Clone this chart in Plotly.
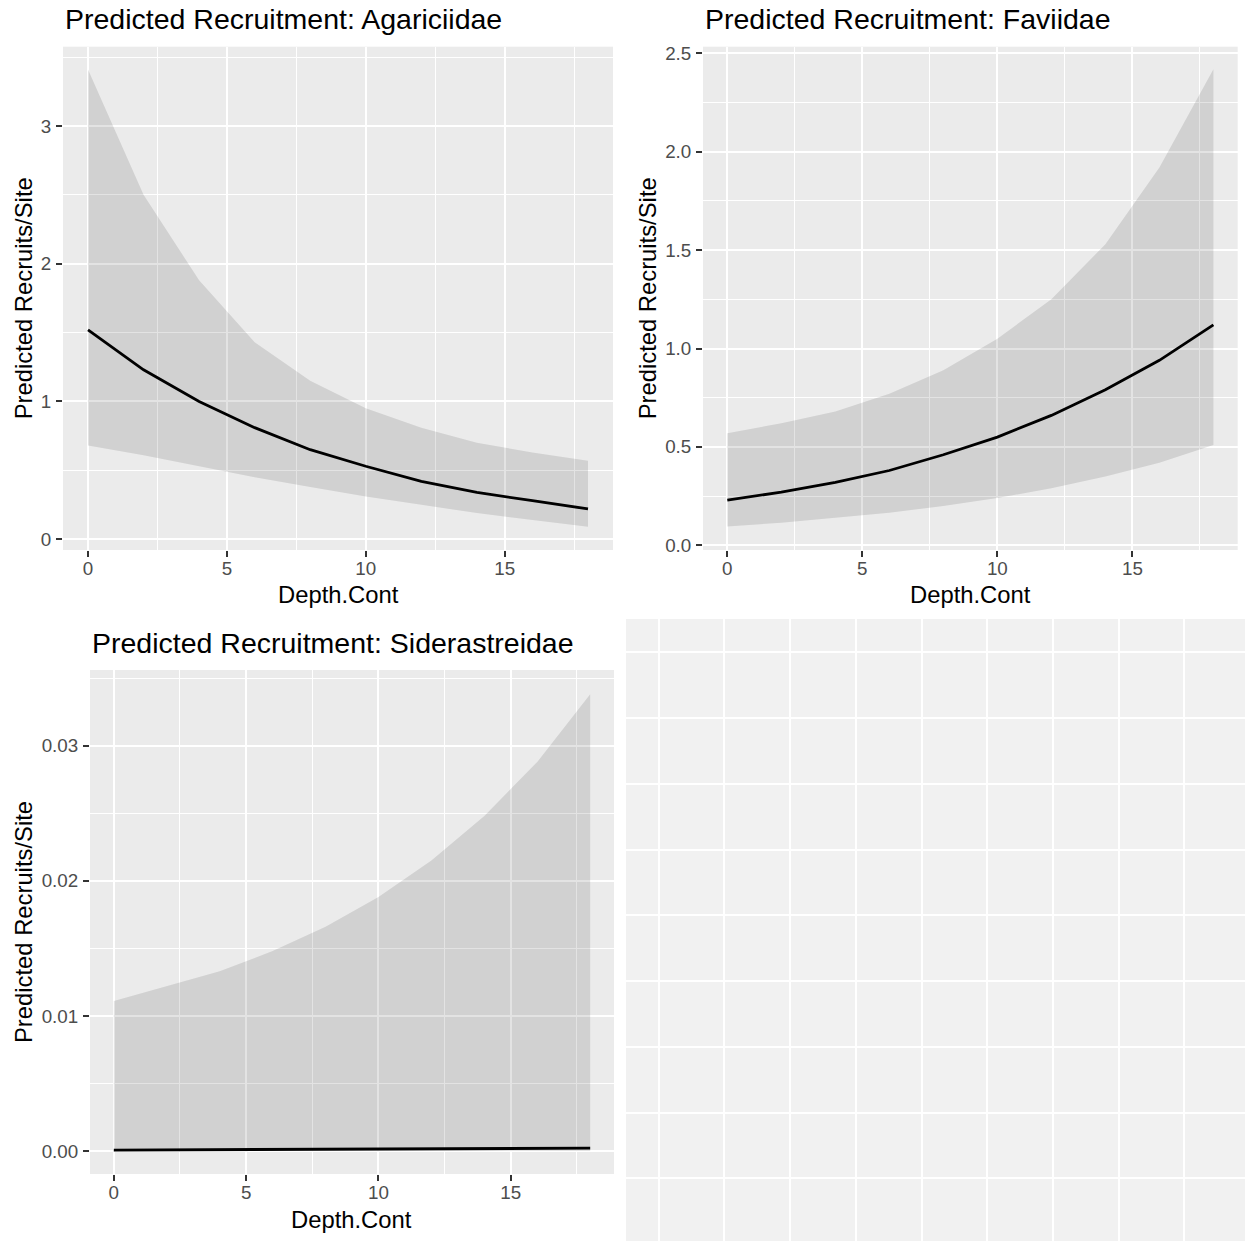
import plotly.graph_objects as go

# ---------------- data ----------------
depth = [0, 2, 4, 6, 8, 10, 12, 14, 16, 18]

agar_fit = [1.52, 1.23, 1.00, 0.81, 0.65, 0.53, 0.42, 0.34, 0.28, 0.22]
agar_lo = [0.68, 0.61, 0.53, 0.45, 0.38, 0.31, 0.25, 0.19, 0.14, 0.09]
agar_hi = [3.41, 2.50, 1.88, 1.43, 1.15, 0.95, 0.81, 0.70, 0.63, 0.57]

fav_fit = [0.23, 0.27, 0.32, 0.38, 0.46, 0.55, 0.66, 0.79, 0.94, 1.12]
fav_lo = [0.095, 0.115, 0.14, 0.165, 0.20, 0.24, 0.29, 0.35, 0.42, 0.51]
fav_hi = [0.57, 0.62, 0.68, 0.77, 0.89, 1.05, 1.25, 1.53, 1.92, 2.42]

sid_fit = [0.00007, 0.00008, 0.00009, 0.00010, 0.00011, 0.00012, 0.00014, 0.00016, 0.00018, 0.00021]
sid_lo = [0.000003, 0.000003, 0.000003, 0.000004, 0.000004, 0.000004, 0.000005, 0.000005, 0.000005, 0.000006]
sid_hi = [0.0111, 0.0122, 0.0133, 0.0148, 0.0166, 0.0188, 0.0215, 0.0248, 0.0288, 0.0338]

titles = ["Predicted Recruitment: Agariciidae",
          "Predicted Recruitment: Faviidae",
          "Predicted Recruitment: Siderastreidae"]
x_title = "Depth.Cont"
y_title = "Predicted Recruits/Site"

# ---------------- figure ----------------
W, H = 1245, 1241
FONT = "Liberation Sans, Arial, sans-serif"
RIBBON = "rgba(0,0,0,0.11)"

fig = go.Figure()


def add_panel(xa, ya, fit, lo, hi):
    fig.add_trace(go.Scatter(x=depth, y=lo, mode="lines", line=dict(width=0),
                             xaxis=xa, yaxis=ya, showlegend=False, hoverinfo="skip"))
    fig.add_trace(go.Scatter(x=depth, y=hi, mode="lines", line=dict(width=0),
                             fill="tonexty", fillcolor=RIBBON,
                             xaxis=xa, yaxis=ya, showlegend=False, hoverinfo="skip"))
    fig.add_trace(go.Scatter(x=depth, y=fit, mode="lines",
                             line=dict(color="black", width=2.8),
                             xaxis=xa, yaxis=ya, showlegend=False))


add_panel("x", "y", agar_fit, agar_lo, agar_hi)
add_panel("x2", "y2", fav_fit, fav_lo, fav_hi)
add_panel("x3", "y3", sid_fit, sid_lo, sid_hi)
fig.add_trace(go.Scatter(x=[], y=[], xaxis="x4", yaxis="y4", showlegend=False))


def px_x(p):
    return p / W


def px_y(p):
    return 1 - p / H


common = dict(showgrid=True, gridcolor="white", gridwidth=2.2, zeroline=False,
              showline=False, ticks="outside", ticklen=6, tickwidth=2.2,
              tickcolor="#333333", automargin=False,
              tickfont=dict(family=FONT, size=18.8, color="#4D4D4D"))


def xax(domain, anchor):
    return dict(common, domain=domain, anchor=anchor, range=[-0.9, 18.9],
                tick0=0, dtick=5, ticklabelstandoff=-5,
                minor=dict(tick0=0, dtick=2.5, showgrid=True, gridcolor="white", gridwidth=1.1))


def yax(domain, anchor, rng, dtick, fmt):
    return dict(common, domain=domain, anchor=anchor, range=rng, tick0=0, dtick=dtick,
                tickformat=fmt, ticklabelstandoff=1,
                minor=dict(tick0=0, dtick=dtick / 2, showgrid=True, gridcolor="white", gridwidth=1.1))


top_dom = [px_y(550), px_y(46.7)]
bot_dom = [px_y(1174), px_y(670)]

fig.update_layout(
    width=W, height=H, autosize=False,
    margin=dict(l=0, r=0, t=0, b=0, pad=0, autoexpand=False),
    paper_bgcolor="white",
    plot_bgcolor="#EBEBEB",
    showlegend=False,
    xaxis=xax([px_x(63), px_x(613)], "y"),
    yaxis=yax(top_dom, "x", [-0.078, 3.575], 1, "d"),
    xaxis2=xax([px_x(703), px_x(1237.7)], "y2"),
    yaxis2=yax(top_dom, "x2", [-0.024, 2.534], 0.5, ".1f"),
    xaxis3=xax([px_x(90), px_x(614)], "y3"),
    yaxis3=yax(bot_dom, "x3", [-0.0017, 0.0356], 0.01, ".2f"),
    xaxis4=dict(domain=[px_x(626), 1], anchor="y4", range=[-0.4977, 8.924],
                tick0=0, dtick=1, showgrid=True, gridcolor="white", gridwidth=2,
                zeroline=False, showticklabels=False, ticks="", automargin=False),
    yaxis4=dict(domain=[0, px_y(619.3)], anchor="x4", range=[0.0464, 9.502],
                tick0=0, dtick=1, showgrid=True, gridcolor="white", gridwidth=2,
                zeroline=False, showticklabels=False, ticks="", automargin=False),
    shapes=[dict(type="rect", xref="x4 domain", yref="y4 domain", x0=0, x1=1, y0=0, y1=1,
                 fillcolor="#F1F1F1", line=dict(width=0), layer="below")],
)

ann = []
# panel titles
for txt, x, y in [(titles[0], 63, 19), (titles[1], 703, 19), (titles[2], 90, 643)]:
    ann.append(dict(text=txt, x=px_x(x), y=px_y(y), xref="paper", yref="paper",
                    xanchor="left", yanchor="middle", showarrow=False,
                    font=dict(family=FONT, size=28.5, color="black")))
# x axis titles
for x, y in [(338, 594.7), (970.3, 594.7), (352, 1219)]:
    ann.append(dict(text=x_title, x=px_x(x), y=px_y(y), xref="paper", yref="paper",
                    xanchor="center", yanchor="middle", showarrow=False,
                    font=dict(family=FONT, size=23.8, color="black")))
# y axis titles
for x, y in [(23, 298.3), (647, 298.3), (23, 922)]:
    ann.append(dict(text=y_title, x=px_x(x), y=px_y(y), xref="paper", yref="paper",
                    xanchor="center", yanchor="middle", showarrow=False, textangle=-90,
                    font=dict(family=FONT, size=23.8, color="black")))
fig.update_layout(annotations=ann)

fig.write_html("out.html", config={"displayModeBar": False},
               post_script="document.body.style.margin='0';document.body.style.padding='0';")
